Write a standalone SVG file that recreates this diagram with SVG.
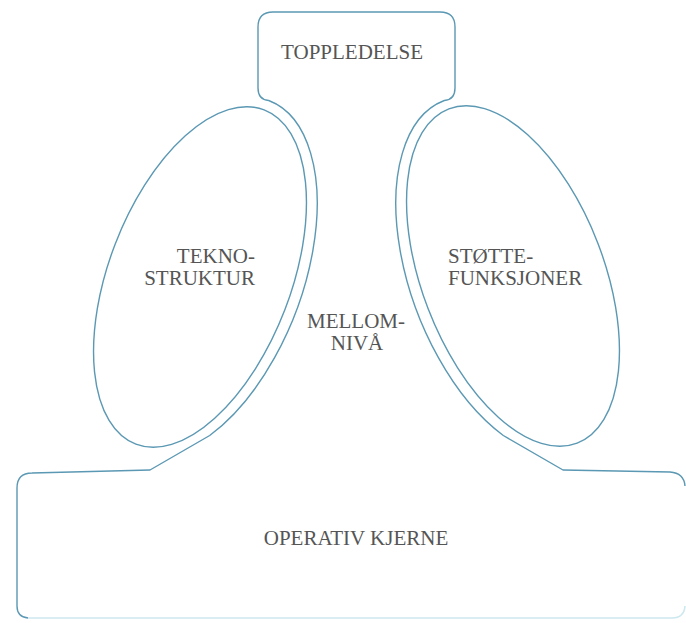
<svg xmlns="http://www.w3.org/2000/svg" width="686" height="623" viewBox="0 0 686 623">
<style>
.ln{fill:none;stroke:#5b98b3;stroke-width:1.4;stroke-linejoin:round}
.lt{fill:none;stroke:#cde8ef;stroke-width:1.6}
.t{font-family:"Liberation Serif","Times New Roman",serif;font-size:21px;fill:#555}
</style>
<rect width="686" height="623" fill="#fff"/>
<g id="connectors">
<path class="ln" d="M685,486 Q684,473 670,472 L563,470 L503.3,435.5 A101,189 -21 0 1 444.3,100.5 C451,100 455,96 455,88 L455,27 Q455,12 440,12 L273,12 Q258,12 258,27 L258,88 C258,96 262,100 268.7,100.5 A101,189 21 0 1 209.7,435.5 L150,470 L32,473 Q17,473 17,488 L17,606 Q17,617 28,618"/>
<path class="lt" d="M28,618 L672,618 Q684,618 685,606"/>
</g>
<g id="toppledelse">
<text class="t" x="352" y="59" text-anchor="middle">TOPPLEDELSE</text>
</g>
<g id="teknostruktur">
<ellipse class="ln" cx="0" cy="0" rx="91" ry="179" transform="translate(200,277) rotate(21)"/>
<text class="t" x="255" y="263" text-anchor="end">TEKNO-</text>
<text class="t" x="255" y="285" text-anchor="end">STRUKTUR</text>
</g>
<g id="stottefunksjoner">
<ellipse class="ln" cx="0" cy="0" rx="91" ry="179" transform="translate(513,276) rotate(-21)"/>
<text class="t" x="448" y="263">STØTTE-</text>
<text class="t" x="448" y="285">FUNKSJONER</text>
</g>
<g id="mellomniva">
<text class="t" x="356" y="328" text-anchor="middle">MELLOM-</text>
<text class="t" x="357" y="350" text-anchor="middle">NIVÅ</text>
</g>
<g id="operativkjerne">
<text class="t" x="356" y="545" text-anchor="middle">OPERATIV KJERNE</text>
</g>
</svg>
